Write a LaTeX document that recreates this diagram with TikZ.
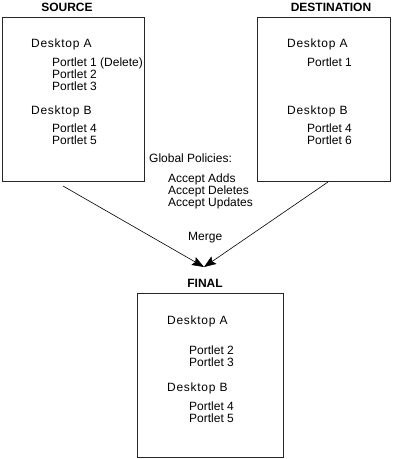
\documentclass[tikz,border=0pt]{standalone}
\usepackage{fontspec}
\setmainfont{Liberation Sans}
\newfontfamily\spacedfont[LetterSpace=6]{Liberation Sans}
\usetikzlibrary{arrows.meta}
\tikzset{
  box/.style={draw=black!85, line width=0.8pt, rectangle, inner sep=0pt, outer sep=0pt},
  txt/.style={anchor=base west, inner sep=0pt, font=\fontsize{12}{12}\selectfont},
  desk/.style={anchor=base west, inner sep=0pt, font=\fontsize{12}{12}\spacedfont},
  ttl/.style={anchor=base, inner sep=0pt, font=\fontsize{12}{12}\selectfont\bfseries},
  conn/.style={line width=0.6pt, -{Stealth[length=12pt,width=9pt,inset=2pt]}}
}
\begin{document}
\begin{tikzpicture}[x=1pt,y=-1pt]
\useasboundingbox (0,0) rectangle (401,459);
% boxes
\node[box, minimum width=142pt, minimum height=164pt] (src) at (73,99) {};
\node[box, minimum width=133pt, minimum height=164pt] (dst) at (323.5,99) {};
\node[box, minimum width=146pt, minimum height=164pt] (fin) at (210,375) {};
% titles
\node[ttl] (tsrc) at (67,11) {SOURCE};
\node[ttl] (tdst) at (331,11) {DESTINATION};
\node[ttl] (tfin) at (205,287) {FINAL};
% source
\node[desk] (sda) at (31,47) {Desktop A};
\node[txt] (sp1) at (52,66) {Portlet 1 (Delete)};
\node[txt] (sp2) at (52,78) {Portlet 2};
\node[txt] (sp3) at (52,90) {Portlet 3};
\node[desk] (sdb) at (31,114) {Desktop B};
\node[txt] (sp4) at (52,132) {Portlet 4};
\node[txt] (sp5) at (52,144) {Portlet 5};
% destination
\node[desk] (dda) at (287,47) {Desktop A};
\node[txt] (dp1) at (307,66) {Portlet 1};
\node[desk] (ddb) at (287,114) {Desktop B};
\node[txt] (dp4) at (307,132) {Portlet 4};
\node[txt] (dp6) at (307,144) {Portlet 6};
% policies
\node[txt] (gp) at (149,162) {Global Policies:};
\node[txt] (pa) at (168,182) {Accept Adds};
\node[txt] (pd) at (168,194) {Accept Deletes};
\node[txt] (pu) at (168,206) {Accept Updates};
\node[txt] (mg) at (188,240) {Merge};
% final
\node[desk] (fda) at (167,324) {Desktop A};
\node[txt] (fp2) at (189,354) {Portlet 2};
\node[txt] (fp3) at (189,366) {Portlet 3};
\node[desk] (fdb) at (167,391) {Desktop B};
\node[txt] (fp4) at (189,410) {Portlet 4};
\node[txt] (fp5) at (189,422) {Portlet 5};
% connectors
\coordinate (s1) at (63,186);
\coordinate (d1) at (328,182);
\coordinate (m) at (204,267);
\draw[conn] (s1) -- (m);
\draw[conn] (d1) -- (m);
\end{tikzpicture}
\end{document}
